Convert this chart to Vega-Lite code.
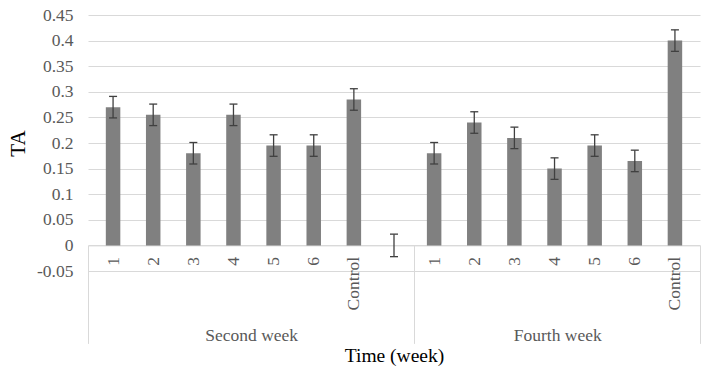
{
  "$schema": "https://vega.github.io/schema/vega-lite/v6.json",
  "width": 612,
  "height": 256,
  "autosize": {"type": "none"},
  "padding": {"left": 88, "top": 15, "right": 7, "bottom": 97},
  "background": "white",
  "config": {"view": {"stroke": null}, "font": "Liberation Serif"},
  "layer": [
    {
      "data": {
        "values": [
          {"slot": 0, "week": "Second week", "label": "1", "ta": 0.27, "lo": 0.249, "hi": 0.291},
          {"slot": 1, "week": "Second week", "label": "2", "ta": 0.255, "lo": 0.234, "hi": 0.276},
          {"slot": 2, "week": "Second week", "label": "3", "ta": 0.18, "lo": 0.159, "hi": 0.201},
          {"slot": 3, "week": "Second week", "label": "4", "ta": 0.255, "lo": 0.234, "hi": 0.276},
          {"slot": 4, "week": "Second week", "label": "5", "ta": 0.195, "lo": 0.174, "hi": 0.216},
          {"slot": 5, "week": "Second week", "label": "6", "ta": 0.195, "lo": 0.174, "hi": 0.216},
          {"slot": 6, "week": "Second week", "label": "Control", "ta": 0.285, "lo": 0.264, "hi": 0.306},
          {"slot": 7, "week": "Second week", "label": "", "ta": 0, "lo": -0.022, "hi": 0.022},
          {"slot": 8, "week": "Fourth week", "label": "1", "ta": 0.18, "lo": 0.159, "hi": 0.201},
          {"slot": 9, "week": "Fourth week", "label": "2", "ta": 0.24, "lo": 0.219, "hi": 0.261},
          {"slot": 10, "week": "Fourth week", "label": "3", "ta": 0.21, "lo": 0.189, "hi": 0.231},
          {"slot": 11, "week": "Fourth week", "label": "4", "ta": 0.15, "lo": 0.129, "hi": 0.171},
          {"slot": 12, "week": "Fourth week", "label": "5", "ta": 0.195, "lo": 0.174, "hi": 0.216},
          {"slot": 13, "week": "Fourth week", "label": "6", "ta": 0.165, "lo": 0.144, "hi": 0.186},
          {"slot": 14, "week": "Fourth week", "label": "Control", "ta": 0.4, "lo": 0.379, "hi": 0.421}
        ]
      },
      "encoding": {
        "x": {
          "field": "slot",
          "type": "quantitative",
          "title": null,
          "scale": {"domain": [-0.5, 14.5], "nice": false, "zero": false},
          "axis": {
            "values": [0, 1, 2, 3, 4, 5, 6, 7, 8, 9, 10, 11, 12, 13, 14],
            "tickCount": 30,
            "labelExpr": "['1','2','3','4','5','6','Control','','1','2','3','4','5','6','Control'][datum.value]",
            "labelAngle": -90,
            "labelAlign": "right",
            "labelBaseline": "middle",
            "offset": -25.6,
            "ticks": false,
            "grid": false,
            "domainColor": "#d9d9d9",
            "domainWidth": 1,
            "labelFont": "Liberation Serif",
            "labelFontSize": 17.5,
            "labelColor": "#595959",
            "labelPadding": 11,
            "labelOverlap": false,
            "labelFlush": false,
            "title": null
          }
        }
      },
      "layer": [
        {
          "mark": {"type": "bar", "size": 14.5, "color": "#808080"},
          "encoding": {
            "y": {
              "field": "ta",
              "type": "quantitative",
              "title": "TA",
              "scale": {"domain": [-0.05, 0.45], "nice": false, "zero": false},
              "axis": {
                "values": [-0.05, 0, 0.05, 0.1, 0.15, 0.2, 0.25, 0.3, 0.35, 0.4, 0.45],
                "tickCount": 30,
                "format": ".2~f",
                "labelExpr": "replace(datum.label, '\u2212', '-')",
                "labelOverlap": false,
                "labelBound": false,
                "domain": false,
                "ticks": false,
                "gridColor": "#d9d9d9",
                "gridWidth": 1,
                "labelFont": "Liberation Serif",
                "labelFontSize": 17.5,
                "labelColor": "#595959",
                "labelPadding": 15,
                "title": "TA",
                "titleFont": "Liberation Serif",
                "titleFontSize": 21,
                "titleFontWeight": "normal",
                "titleColor": "#000000",
                "titlePadding": 8
              }
            }
          }
        },
        {
          "mark": {"type": "rule", "color": "#404040", "strokeWidth": 1.3},
          "encoding": {
            "y": {"field": "lo", "type": "quantitative", "title": "TA"},
            "y2": {"field": "hi"}
          }
        },
        {
          "mark": {"type": "tick", "orient": "horizontal", "size": 8, "thickness": 1.3, "color": "#404040", "opacity": 1},
          "encoding": {
            "y": {"field": "hi", "type": "quantitative", "title": "TA"}
          }
        },
        {
          "mark": {"type": "tick", "orient": "horizontal", "size": 8, "thickness": 1.3, "color": "#404040", "opacity": 1},
          "encoding": {
            "y": {"field": "lo", "type": "quantitative", "title": "TA"}
          }
        }
      ]
    },
    {
      "data": {
        "values": [
          {"week": "Second week", "mid": 3.5},
          {"week": "Fourth week", "mid": 11}
        ]
      },
      "mark": {"type": "point", "opacity": 0},
      "encoding": {
        "x": {
          "field": "mid",
          "type": "quantitative",
          "scale": {"domain": [-0.5, 14.5], "nice": false, "zero": false},
          "axis": {
            "orient": "bottom",
            "values": [-0.5, 3.5, 7.5, 11, 14.5],
            "tickCount": 30,
            "labelExpr": "datum.value == 3.5 ? 'Second week' : (datum.value == 11 ? 'Fourth week' : '')",
            "offset": -25.6,
            "domain": false,
            "grid": false,
            "ticks": true,
            "tickSize": 98,
            "tickColor": "#d9d9d9",
            "tickWidth": 1,
            "tickOpacity": {"condition": {"test": "datum.value == 3.5 || datum.value == 11", "value": 0}, "value": 1},
            "labelPadding": -17,
            "labelAngle": 0,
            "labelFont": "Liberation Serif",
            "labelFontSize": 17.5,
            "labelColor": "#595959",
            "labelOverlap": false,
            "labelFlush": false,
            "title": "Time (week)",
            "titleFont": "Liberation Serif",
            "titleFontSize": 19.5,
            "titleFontWeight": "normal",
            "titleColor": "#000000",
            "titlePadding": 3
          }
        }
      }
    }
  ],
  "resolve": {"scale": {"x": "independent"}, "axis": {"x": "independent"}}
}
